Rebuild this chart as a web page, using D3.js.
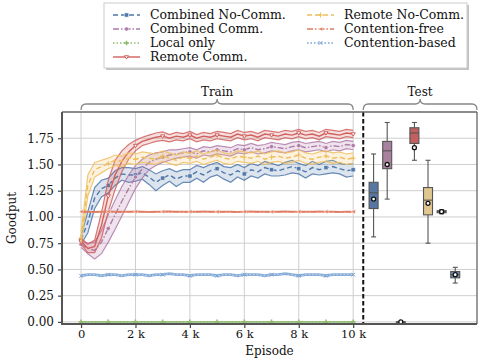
<!DOCTYPE html>
<html>
<head>
<meta charset="utf-8">
<script src="https://cdn.jsdelivr.net/npm/d3@7"></script>
<style>
  body { margin: 0; background: #fff; }
  svg { font-family: "DejaVu Serif", serif; }
</style>
</head>
<body>
<div class="chart"></div>
<script>
// training curves, sampled every 250 episodes
var episodes = [0,250,500,750,1000,1250,1500,1750,2000,2250,2500,2750,3000,3250,3500,3750,4000,4250,4500,4750,5000,
  5250,5500,5750,6000,6250,6500,6750,7000,7250,7500,7750,8000,8250,8500,8750,9000,9250,9500,9750,10000];

var combinedNoCommMean = [0.78,0.95,1.18,1.27,1.30,1.37,1.41,1.40,1.40,1.42,1.38,1.33,1.37,1.40,1.36,1.39,1.39,1.43,1.40,1.44,1.46,
  1.42,1.40,1.44,1.41,1.45,1.43,1.47,1.45,1.44,1.46,1.48,1.46,1.43,1.47,1.45,1.47,1.48,1.46,1.44,1.45];
var combinedNoCommSd = [0.04,0.10,0.10,0.08,0.07,0.07,0.06,0.07,0.06,0.06,0.07,0.08,0.07,0.06,0.07,0.06,0.06,0.06,0.07,0.06,0.06,
  0.06,0.07,0.06,0.06,0.06,0.06,0.06,0.06,0.05,0.06,0.06,0.05,0.06,0.06,0.05,0.06,0.06,0.05,0.06,0.06];

var combinedCommMean = [0.74,0.70,0.68,0.76,0.89,1.02,1.15,1.27,1.38,1.46,1.52,1.55,1.57,1.59,1.60,1.61,1.62,1.60,1.63,1.62,1.64,
  1.63,1.62,1.65,1.64,1.66,1.64,1.65,1.67,1.66,1.65,1.67,1.68,1.66,1.67,1.68,1.66,1.68,1.67,1.69,1.68];
var combinedCommSd = [0.03,0.05,0.08,0.11,0.13,0.14,0.14,0.13,0.11,0.09,0.07,0.06,0.05,0.05,0.04,0.04,0.04,0.04,0.04,0.04,0.04,
  0.04,0.04,0.04,0.04,0.04,0.04,0.04,0.04,0.04,0.04,0.04,0.04,0.04,0.04,0.04,0.04,0.04,0.04,0.04,0.04];

var localOnlyMean = [0,0,0,0,0,0,0,0,0,0,0,0,0,0,0,0,0,0,0,0,0,0,0,0,0,0,0,0,0,0,0,0,0,0,0,0,0,0,0,0,0];
var localOnlySd = [0,0,0,0,0,0,0,0,0,0,0,0,0,0,0,0,0,0,0,0,0,0,0,0,0,0,0,0,0,0,0,0,0,0,0,0,0,0,0,0,0];

var remoteCommMean = [0.77,0.70,0.72,0.92,1.20,1.40,1.53,1.62,1.68,1.72,1.74,1.76,1.77,1.75,1.77,1.76,1.78,1.75,1.77,1.76,1.78,
  1.77,1.76,1.79,1.77,1.78,1.76,1.79,1.78,1.77,1.79,1.78,1.80,1.78,1.79,1.77,1.80,1.79,1.78,1.80,1.79];
var remoteCommSd = [0.03,0.04,0.06,0.12,0.15,0.14,0.10,0.07,0.05,0.04,0.04,0.04,0.04,0.035,0.035,0.035,0.035,0.035,0.035,0.035,0.035,
  0.035,0.035,0.035,0.035,0.035,0.035,0.035,0.035,0.035,0.035,0.035,0.035,0.035,0.035,0.035,0.035,0.035,0.035,0.035,0.035];

var remoteNoCommMean = [0.80,1.30,1.45,1.48,1.51,1.54,1.53,1.56,1.55,1.57,1.56,1.55,1.58,1.56,1.54,1.57,1.56,1.58,1.55,1.57,1.59,
  1.56,1.55,1.58,1.57,1.56,1.58,1.55,1.57,1.58,1.56,1.57,1.59,1.56,1.55,1.57,1.58,1.56,1.57,1.55,1.56];
var remoteNoCommSd = [0.05,0.10,0.07,0.06,0.05,0.05,0.05,0.05,0.05,0.05,0.05,0.05,0.05,0.05,0.05,0.05,0.05,0.05,0.05,0.05,0.05,
  0.05,0.05,0.05,0.05,0.05,0.05,0.05,0.05,0.05,0.05,0.05,0.05,0.05,0.05,0.05,0.05,0.05,0.05,0.05,0.05];

var contentionFreeMean = [1.05,1.05,1.048,1.05,1.052,1.05,1.049,1.05,1.051,1.05,1.048,1.05,1.05,1.052,1.05,1.049,1.05,1.05,1.051,1.05,1.049,
  1.05,1.05,1.048,1.05,1.051,1.05,1.05,1.049,1.05,1.052,1.05,1.05,1.049,1.05,1.051,1.05,1.05,1.048,1.05,1.05];
var contentionFreeSd = [0.004,0.004,0.004,0.004,0.004,0.004,0.004,0.004,0.004,0.004,0.004,0.004,0.004,0.004,0.004,0.004,0.004,0.004,0.004,0.004,0.004,
  0.004,0.004,0.004,0.004,0.004,0.004,0.004,0.004,0.004,0.004,0.004,0.004,0.004,0.004,0.004,0.004,0.004,0.004,0.004,0.004];

var contentionBasedMean = [0.44,0.45,0.45,0.44,0.45,0.45,0.44,0.45,0.45,0.45,0.44,0.45,0.45,0.46,0.45,0.45,0.44,0.45,0.45,0.45,0.44,
  0.45,0.45,0.44,0.45,0.45,0.45,0.44,0.45,0.45,0.46,0.45,0.44,0.45,0.45,0.45,0.44,0.45,0.45,0.45,0.45];
var contentionBasedSd = [0.008,0.008,0.008,0.008,0.008,0.008,0.008,0.008,0.008,0.008,0.008,0.008,0.008,0.008,0.008,0.008,0.008,0.008,0.008,0.008,0.008,
  0.008,0.008,0.008,0.008,0.008,0.008,0.008,0.008,0.008,0.008,0.008,0.008,0.008,0.008,0.008,0.008,0.008,0.008,0.008,0.008];

// test results: [whisker low, q1, median, q3, whisker high, mean]
var testNames = ["Combined No-Comm.", "Combined Comm.", "Local only", "Remote Comm.", "Remote No-Comm.", "Contention-free", "Contention-based"];
var testStats = [
  [0.81, 1.08, 1.23, 1.33, 1.60, 1.17],
  [1.17, 1.46, 1.63, 1.72, 1.90, 1.50],
  [0.00, 0.00, 0.00, 0.00, 0.00, 0.00],
  [1.54, 1.70, 1.80, 1.85, 1.90, 1.66],
  [0.75, 1.02, 1.16, 1.28, 1.54, 1.13],
  [1.03, 1.04, 1.05, 1.06, 1.07, 1.05],
  [0.37, 0.42, 0.45, 0.48, 0.52, 0.45]
];

var yTicks = [0, 0.25, 0.5, 0.75, 1.0, 1.25, 1.5, 1.75];
var xTicks = [0, 2000, 4000, 6000, 8000, 10000];

var series = [
  {name: "Combined No-Comm.", mean: combinedNoCommMean, sd: combinedNoCommSd, color: "#4f77aa", box: "#5876a2", dash: "5,3", marker: "square"},
  {name: "Combined Comm.", mean: combinedCommMean, sd: combinedCommSd, color: "#b07aa8", box: "#a8819f", dash: "6,2,1.5,2", marker: "circle"},
  {name: "Local only", mean: localOnlyMean, sd: localOnlySd, color: "#8fbc6f", box: "#7fa866", dash: "1.5,2", marker: "plusfat"},
  {name: "Remote Comm.", mean: remoteCommMean, sd: remoteCommSd, color: "#d1605e", box: "#c1605f", dash: null, marker: "tri"},
  {name: "Remote No-Comm.", mean: remoteNoCommMean, sd: remoteNoCommSd, color: "#eebf5e", box: "#e0c68f", dash: "5,3", marker: "plus"},
  {name: "Contention-free", mean: contentionFreeMean, sd: contentionFreeSd, color: "#e07b5f", box: "#cf8a6f", dash: "6,2,1.5,2", marker: "left"},
  {name: "Contention-based", mean: contentionBasedMean, sd: contentionBasedSd, color: "#7ba3d4", box: "#6e8db4", dash: "1.5,2", marker: "x"}
];

const W = 485, H = 360;
const margin = {top: 112, right: 8, bottom: 36, left: 62};
const fs = 12;

var svg = d3.select('.chart').append('svg')
  .attr('width', W).attr('height', H);

const x = d3.scaleLinear().domain([-700, 14550]).range([margin.left, W - margin.right]);
const y = d3.scaleLinear().domain([-0.02, 2.0]).range([H - margin.bottom, margin.top]);

const plotL = margin.left, plotR = W - margin.right, plotT = margin.top, plotB = H - margin.bottom;

// grid
svg.append('g').selectAll('line').data(yTicks).enter().append('line')
  .attr('x1', plotL).attr('x2', plotR)
  .attr('y1', d => y(d)).attr('y2', d => y(d))
  .attr('stroke', '#cfcfcf').attr('stroke-width', 1);
svg.append('g').selectAll('line').data(xTicks).enter().append('line')
  .attr('x1', d => x(d)).attr('x2', d => x(d))
  .attr('y1', plotT).attr('y2', plotB)
  .attr('stroke', '#cfcfcf').attr('stroke-width', 1);

// marker shapes
function markerPath(type, s) {
  switch (type) {
    case "square": return d3.symbol(d3.symbolSquare, s * s)();
    case "circle": return d3.symbol(d3.symbolCircle, s * s * 0.8)();
    case "plus": { const h = s * 0.6; return `M${-h},0H${h}M0,${-h}V${h}`; }
    case "plusfat": { const h = s * 0.55; return `M${-h},0H${h}M0,${-h}V${h}`; }
    case "x": { const h = s * 0.45; return `M${-h},${-h}L${h},${h}M${-h},${h}L${h},${-h}`; }
    case "tri": { const h = s * 0.5; return `M${-h},${-h * 0.6}L${h},${-h * 0.6}L0,${h}Z`; }
    case "left": { const h = s * 0.5; return `M${-h},0L${h},${-h}L${h},${h}Z`; }
  }
}
function styleMarker(sel, d) {
  const stroked = (d.marker === "plus" || d.marker === "x" || d.marker === "plusfat");
  sel.attr('d', markerPath(d.marker, 4.2))
    .attr('fill', stroked ? 'none' : (d.marker === "tri" ? '#fff' : d.color))
    .attr('stroke', stroked || d.marker === "tri" ? d.color : '#fff')
    .attr('stroke-width', stroked ? (d.marker === "plusfat" ? 1.6 : 1) : (d.marker === "tri" ? 1 : 0.5));
}

const line = d3.line().x((d, i) => x(episodes[i])).y(d => y(d)).curve(d3.curveLinear);
const area = d3.area().x((d, i) => x(episodes[i]))
  .y0(d => y(d[0] - d[1])).y1(d => y(d[0] + d[1]));

series.forEach(s => {
  const g = svg.append('g');
  const pairs = s.mean.map((m, i) => [m, s.sd[i]]);
  g.append('path').attr('d', area(pairs))
    .attr('fill', s.color).attr('fill-opacity', 0.2).attr('stroke', 'none');
  g.append('path').attr('d', line(s.mean.map((m, i) => m + s.sd[i])))
    .attr('fill', 'none').attr('stroke', s.color).attr('stroke-width', 1.2).attr('stroke-opacity', 0.85);
  g.append('path').attr('d', line(s.mean.map((m, i) => m - s.sd[i])))
    .attr('fill', 'none').attr('stroke', s.color).attr('stroke-width', 1.2).attr('stroke-opacity', 0.85);
  g.append('path').attr('d', line(s.mean))
    .attr('fill', 'none').attr('stroke', s.color).attr('stroke-width', 1.4)
    .attr('stroke-dasharray', s.dash);
  g.selectAll('path.mk').data(s.mean.filter((m, i) => i % 4 === 0)).enter()
    .append('path').attr('class', 'mk')
    .attr('transform', (m, i) => `translate(${x(episodes[i * 4])},${y(m)})`)
    .each(function() { styleMarker(d3.select(this), s); });
});

// boxplots for test
const xTest = d3.scalePoint().domain(testNames).range([x(10750), x(13750)]);
const bw = 9;
testNames.forEach((n, i) => {
  const st = testStats[i];
  const s = series[i];
  const cx = xTest(n);
  const g = svg.append('g');
  g.append('line').attr('x1', cx).attr('x2', cx).attr('y1', y(st[0])).attr('y2', y(st[1]))
    .attr('stroke', '#555').attr('stroke-width', 1.1);
  g.append('line').attr('x1', cx).attr('x2', cx).attr('y1', y(st[3])).attr('y2', y(st[4]))
    .attr('stroke', '#555').attr('stroke-width', 1.1);
  [st[0], st[4]].forEach(v => g.append('line')
    .attr('x1', cx - 2.5).attr('x2', cx + 2.5).attr('y1', y(v)).attr('y2', y(v))
    .attr('stroke', '#555').attr('stroke-width', 1.1));
  g.append('rect').attr('x', cx - bw / 2).attr('width', bw)
    .attr('y', y(st[3])).attr('height', Math.max(0.5, y(st[1]) - y(st[3])))
    .attr('fill', s.box).attr('stroke', '#555').attr('stroke-width', 1.1);
  g.append('line').attr('x1', cx - bw / 2).attr('x2', cx + bw / 2).attr('y1', y(st[2])).attr('y2', y(st[2]))
    .attr('stroke', '#555').attr('stroke-width', 1.1);
  g.append('circle').attr('cx', cx).attr('cy', y(st[5])).attr('r', 2)
    .attr('fill', '#fff').attr('stroke', '#111').attr('stroke-width', 1.3);
});

// divider between train and test
svg.append('line').attr('x1', x(10370)).attr('x2', x(10370)).attr('y1', plotT).attr('y2', plotB)
  .attr('stroke', '#111').attr('stroke-width', 2).attr('stroke-dasharray', '4.5,2.5');

// spines
svg.append('line').attr('x1', plotL).attr('x2', plotR).attr('y1', plotT).attr('y2', plotT)
  .attr('stroke', '#666').attr('stroke-width', 1.3);
svg.append('line').attr('x1', plotR).attr('x2', plotR).attr('y1', plotT).attr('y2', plotB)
  .attr('stroke', '#666').attr('stroke-width', 1.3);

// axes
const yAxis = d3.axisLeft(y).tickValues(yTicks).tickFormat(d3.format('.2f')).tickSize(4).tickSizeOuter(0).tickPadding(4);
const xAxis = d3.axisBottom(x).tickValues(xTicks).tickFormat(d => d === 0 ? '0' : (d / 1000) + ' k').tickSize(4).tickSizeOuter(0).tickPadding(2);

const gy = svg.append('g').attr('transform', `translate(${plotL},0)`).call(yAxis);
const gx = svg.append('g').attr('transform', `translate(0,${plotB})`).call(xAxis);
[gx, gy].forEach(g => {
  g.select('.domain').remove();
  g.selectAll('line').attr('stroke', '#444').attr('stroke-width', 1.2);
  g.selectAll('text').attr('font-size', fs).attr('fill', '#111').attr('font-family', 'DejaVu Serif');
});
gx.selectAll('text').attr('font-size', 11.5);
svg.append('line').attr('x1', plotL).attr('x2', plotL).attr('y1', plotT).attr('y2', plotB + 1)
  .attr('stroke', '#555').attr('stroke-width', 2);
svg.append('line').attr('x1', plotL - 1).attr('x2', plotR).attr('y1', plotB).attr('y2', plotB)
  .attr('stroke', '#555').attr('stroke-width', 2);

svg.append('text').attr('x', (plotL + plotR) / 2).attr('y', 355)
  .attr('text-anchor', 'middle').attr('font-size', fs).attr('fill', '#111').text('Episode');
svg.append('text').attr('transform', `translate(16,${(plotT + plotB) / 2}) rotate(-90)`)
  .attr('text-anchor', 'middle').attr('font-size', fs).attr('fill', '#111').text('Goodput');

// curly braces above the two phases
function brace(x0, x1, yb) {
  const xm = (x0 + x1) / 2, r = 5, yt = yb - 6, tip = yb - 11;
  return `M${x0},${yb} Q${x0},${yt} ${x0 + r},${yt} L${xm - r},${yt} Q${xm},${yt} ${xm},${tip}`
    + ` Q${xm},${yt} ${xm + r},${yt} L${x1 - r},${yt} Q${x1},${yt} ${x1},${yb}`;
}
const braces = [["Train", x(0), x(10000)], ["Test", x(10370), plotR]];
braces.forEach(b => {
  svg.append('path').attr('d', brace(b[1], b[2], 110))
    .attr('fill', 'none').attr('stroke', '#888').attr('stroke-width', 1.3);
  svg.append('text').attr('x', (b[1] + b[2]) / 2).attr('y', 96)
    .attr('text-anchor', 'middle').attr('font-size', fs).attr('fill', '#111').text(b[0]);
});

// legend
const lg = svg.append('g');
lg.append('rect').attr('x', 106).attr('y', 5).attr('width', 363).attr('height', 65)
  .attr('fill', '#999').attr('opacity', 0.6);
lg.append('rect').attr('x', 104).attr('y', 3).attr('width', 363).attr('height', 65)
  .attr('fill', '#fff').attr('stroke', '#ccc').attr('stroke-width', 1);
series.forEach((s, j) => {
  const col = j < 4 ? 0 : 1, row = j < 4 ? j : j - 4;
  const hx = col === 0 ? 113 : 307, ty = 15 + row * 14;
  lg.append('line').attr('x1', hx).attr('x2', hx + 27).attr('y1', ty).attr('y2', ty)
    .attr('stroke', s.color).attr('stroke-width', 1.4).attr('stroke-dasharray', s.dash);
  lg.append('path').attr('transform', `translate(${hx + 13.5},${ty})`)
    .each(function() { styleMarker(d3.select(this), s); });
  lg.append('text').attr('x', hx + 37).attr('y', ty).attr('dy', '0.35em')
    .attr('font-size', 12.5).attr('fill', '#111').text(s.name);
});
</script>
</body>
</html>
